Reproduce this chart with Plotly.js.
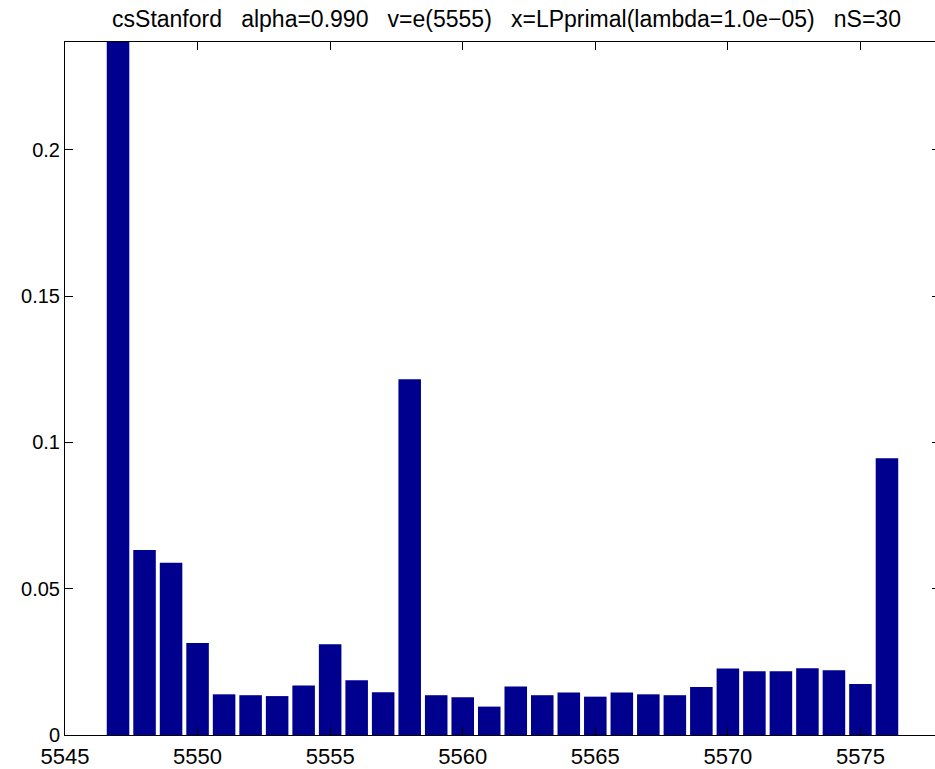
<!DOCTYPE html>
<html>
<head>
<meta charset="utf-8">
<script src="https://cdn.plot.ly/plotly-3.0.1.min.js"></script>
<style>
html, body { margin:0; padding:0; overflow:hidden; background:#fff; width:935px; height:769px; }
#chart { width:940px; height:769px; }
</style>
</head>
<body>
<div id="chart"></div>
<script>
const nodes = [5547,5548,5549,5550,5551,5552,5553,5554,5555,5556,5557,5558,5559,5560,5561,5562,5563,5564,5565,5566,5567,5568,5569,5570,5571,5572,5573,5574,5575,5576];
const mass = [0.237,0.0632,0.0589,0.0314,0.0139,0.0136,0.0133,0.0169,0.0310,0.0187,0.0146,0.1216,0.0136,0.0129,0.0097,0.0166,0.0136,0.0145,0.0131,0.0145,0.0139,0.0136,0.0164,0.0227,0.0218,0.0218,0.0228,0.0221,0.0174,0.0946];
const xTicks = [5545,5550,5555,5560,5565,5570,5575];
const yTicks = [0,0.05,0.1,0.15,0.2];
const yTickText = ['0','0.05','0.1','0.15','0.2'];
const titleText = 'csStanford\u00a0\u00a0\u00a0alpha=0.990\u00a0\u00a0\u00a0v=e(5555)\u00a0\u00a0\u00a0x=LPprimal(lambda=1.0e\u221205)\u00a0\u00a0\u00a0nS=30';

const font = 'Liberation Sans, Arial, Helvetica, sans-serif';

Plotly.newPlot('chart', [{
  type: 'bar',
  x: nodes,
  y: mass,
  width: 0.85,
  marker: { color: '#00008F', line: { width: 0 } },
  hoverinfo: 'x+y'
}], {
  width: 940,
  height: 769,
  margin: { l: 65, r: 0, t: 42, b: 34, pad: 0 },
  paper_bgcolor: '#fff',
  plot_bgcolor: '#fff',
  showlegend: false,
  title: {
    text: titleText,
    font: { family: font, size: 23, color: '#000' },
    xref: 'container', x: 506.5/940, xanchor: 'center',
    yref: 'container', y: 1 - 19/769, yanchor: 'middle'
  },
  xaxis: {
    range: [5545, 5578],
    tickmode: 'array',
    tickvals: xTicks,
    ticktext: xTicks.map(String),
    ticks: 'inside', ticklen: 8, tickwidth: 1, tickcolor: '#000',
    showline: true, linecolor: '#000', linewidth: 1, mirror: 'ticks',
    showgrid: false, zeroline: false,
    ticklabelstandoff: 2,
    tickfont: { family: font, size: 22, color: '#000' }
  },
  yaxis: {
    range: [0, 0.2368],
    tickmode: 'array',
    tickvals: yTicks,
    ticktext: yTickText,
    ticks: 'inside', ticklen: 8, tickwidth: 1, tickcolor: '#000',
    showline: true, linecolor: '#000', linewidth: 1, mirror: 'ticks',
    showgrid: false, zeroline: false,
    ticklabelstandoff: 0,
    tickfont: { family: font, size: 20, color: '#000' }
  }
}, { displayModeBar: false, staticPlot: true });
</script>
</body>
</html>
